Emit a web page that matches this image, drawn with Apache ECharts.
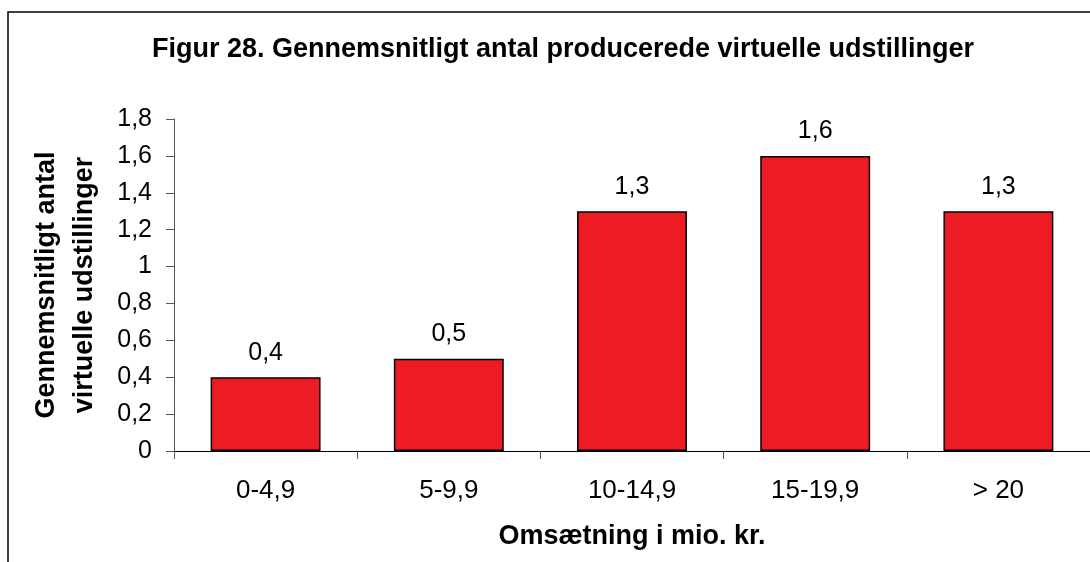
<!DOCTYPE html>
<html>
<head>
<meta charset="utf-8">
<script src="https://cdn.jsdelivr.net/npm/echarts@6/dist/echarts.min.js"></script>
<style>
  html, body { margin: 0; padding: 0; background: #fff; }
  #chart { width: 1090px; height: 562px; }
</style>
</head>
<body>
<div id="chart"></div>
<script>
// data
var categories = ['0-4,9', '5-9,9', '10-14,9', '15-19,9', '> 20'];
var values = [0.4, 0.5, 1.3, 1.6, 1.3];
var yMin = 0, yMax = 1.8, yStep = 0.2;

var font = '"Liberation Sans", Arial, sans-serif';
var comma = function (v) { return String(+v.toFixed(1)).replace('.', ','); };

var chart = echarts.init(document.getElementById('chart'));
chart.setOption({
    animation: false,
    textStyle: {fontFamily: font},
    title: {
        text: 'Figur 28. Gennemsnitligt antal producerede virtuelle udstillinger',
        left: 558,
        textAlign: 'center',
        top: 31,
        textStyle: {fontSize: 27, fontWeight: 'bold', color: '#000', fontFamily: font}
    },
    graphic: [{
        type: 'polyline',
        shape: {points: [[8, 562], [8, 12], [1090, 12]]},
        style: {stroke: '#000', lineWidth: 1.5, fill: null}
    }],
    grid: {left: 174, right: 0, top: 119, bottom: 111},
    xAxis: {
        type: 'category',
        data: categories,
        name: 'Omsætning i mio. kr.',
        nameLocation: 'middle',
        nameGap: 72,
        nameTextStyle: {fontSize: 27, fontWeight: 'bold', color: '#000', fontFamily: font},
        axisLine: {lineStyle: {color: '#000', width: 1}},
        axisTick: {show: true, length: 8, lineStyle: {color: '#555'}},
        axisLabel: {fontSize: 26, color: '#000', margin: 27, fontFamily: font}
    },
    yAxis: {
        type: 'value',
        min: yMin, max: yMax, interval: yStep,
        name: 'Gennemsnitligt antal\nvirtuelle udstillinger',
        nameLocation: 'middle',
        nameGap: 70,
        nameRotate: 90,
        nameTextStyle: {fontSize: 27, fontWeight: 'bold', color: '#000', lineHeight: 38, fontFamily: font},
        axisLine: {show: true, lineStyle: {color: '#555', width: 1}},
        axisTick: {show: true, length: 8, lineStyle: {color: '#555'}},
        splitLine: {show: false},
        axisLabel: {fontSize: 25, color: '#000', margin: 22, fontFamily: font, formatter: comma}
    },
    series: [{
        type: 'bar',
        data: values,
        barWidth: '60%',
        itemStyle: {color: '#ED1C24', borderColor: '#000', borderWidth: 1.5},
        label: {
            show: true,
            position: 'top',
            distance: 12,
            fontSize: 25,
            color: '#000',
            fontFamily: font,
            formatter: function (p) { return comma(p.value); }
        }
    }]
});
</script>
</body>
</html>
